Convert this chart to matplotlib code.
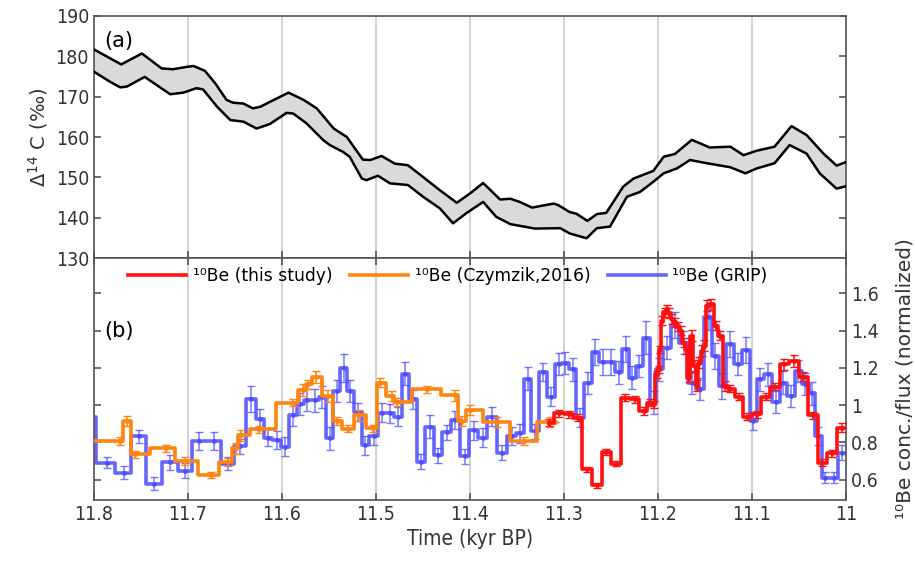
import numpy as np
import matplotlib
matplotlib.use("Agg")
import matplotlib.pyplot as plt
from matplotlib import font_manager

# ---- (a) Delta 14C envelope ----
d14c_up_t = [11.800, 11.771, 11.749, 11.728, 11.716, 11.701, 11.694, 11.682, 11.671, 11.659,
             11.652, 11.641, 11.631, 11.623, 11.613, 11.593, 11.577, 11.563, 11.545, 11.531,
             11.521, 11.514, 11.506, 11.494, 11.480, 11.466, 11.450, 11.432, 11.414, 11.400,
             11.386, 11.368, 11.357, 11.347, 11.334, 11.311, 11.306, 11.294, 11.287, 11.275,
             11.265, 11.255, 11.237, 11.226, 11.205, 11.194, 11.182, 11.164, 11.145, 11.123,
             11.109, 11.095, 11.076, 11.058, 11.042, 11.024, 11.010, 11.000]
d14c_up = [181.7, 178.0, 180.7, 177.0, 176.8, 177.4, 177.6, 176.4, 173.3, 169.2,
           168.5, 168.3, 167.1, 167.5, 168.7, 171.0, 169.2, 167.1, 162.1, 160.0,
           156.7, 154.4, 154.3, 155.3, 153.4, 153.0, 150.1, 146.8, 143.7, 146.0,
           148.6, 144.5, 144.7, 143.9, 142.5, 143.5, 143.1, 141.4, 141.0, 139.2,
           140.9, 141.2, 147.7, 149.7, 151.6, 155.1, 155.8, 159.3, 157.4, 157.6,
           155.5, 156.6, 157.6, 162.7, 160.5, 155.9, 152.9, 153.8]

d14c_lo_t = [11.800, 11.783, 11.772, 11.765, 11.746, 11.719, 11.705, 11.691, 11.684, 11.669,
             11.655, 11.641, 11.627, 11.613, 11.595, 11.588, 11.574, 11.556, 11.549, 11.535,
             11.528, 11.515, 11.510, 11.498, 11.485, 11.466, 11.450, 11.432, 11.418, 11.404,
             11.386, 11.372, 11.357, 11.331, 11.304, 11.294, 11.276, 11.265, 11.251, 11.233,
             11.219, 11.205, 11.194, 11.180, 11.166, 11.148, 11.123, 11.107, 11.095, 11.076,
             11.060, 11.042, 11.028, 11.010, 11.000]
d14c_lo = [176.2, 173.7, 172.3, 172.5, 174.9, 170.6, 171.0, 172.1, 171.8, 167.5,
           164.2, 163.8, 162.1, 163.2, 166.0, 165.8, 163.4, 159.2, 158.0, 156.3,
           155.1, 149.7, 149.3, 150.4, 148.5, 148.1, 145.2, 142.3, 138.6, 141.1,
           143.9, 140.2, 138.4, 137.3, 137.4, 136.1, 134.9, 137.4, 137.8, 145.2,
           146.4, 148.9, 151.0, 152.2, 154.3, 153.5, 152.5, 151.0, 152.2, 153.5,
           158.0, 155.9, 151.0, 147.2, 147.8]

# ---- (b) 10Be records ----
be_this_t = [11.3163, 11.3056, 11.2950, 11.2854, 11.2755, 11.2649, 11.2550, 11.2447, 11.2348, 11.2248,
             11.2152, 11.2082, 11.2046, 11.2011, 11.1993, 11.1976, 11.1957, 11.1929, 11.1904, 11.1880,
             11.1851, 11.1822, 11.1787, 11.1752, 11.1727, 11.1702, 11.1674, 11.1638, 11.1610, 11.1585,
             11.1561, 11.1532, 11.1507, 11.1479, 11.1433, 11.1383, 11.1337, 11.1290, 11.1231, 11.1141,
             11.1053, 11.0950, 11.0854, 11.0755, 11.0656, 11.0550, 11.0454, 11.0348, 11.0252, 11.0146,
             11.0046, 10.9960]
be_this = [0.905, 0.955, 0.950, 0.932, 0.654, 0.568, 0.747, 0.686, 1.040, 1.031,
           0.968, 1.013, 1.004, 1.165, 1.192, 1.300, 1.453, 1.498, 1.515, 1.494,
           1.462, 1.444, 1.422, 1.399, 1.336, 1.300, 1.148, 1.372, 1.210, 1.103,
           1.228, 1.291, 1.318, 1.533, 1.542, 1.426, 1.372, 1.103, 1.089, 1.045,
           0.938, 0.950, 1.045, 1.099, 1.219, 1.237, 1.153, 0.945, 0.690, 0.740,
           0.878, 0.878]
be_this_err = [0.02, 0.02, 0.02, 0.02, 0.015, 0.015, 0.015, 0.015, 0.02, 0.02,
               0.02, 0.02, 0.02, 0.02, 0.02, 0.02, 0.025, 0.025, 0.025, 0.025,
               0.025, 0.025, 0.025, 0.025, 0.025, 0.025, 0.025, 0.03, 0.03, 0.03,
               0.03, 0.03, 0.03, 0.03, 0.03, 0.025, 0.025, 0.025, 0.02, 0.02,
               0.02, 0.02, 0.02, 0.02, 0.03, 0.03, 0.025, 0.02, 0.02, 0.02,
               0.025, 0.0]

be_czy_t = [11.805, 11.7723, 11.7652, 11.7564, 11.7234, 11.7032, 11.6759, 11.6571, 11.6493, 11.6439,
            11.6241, 11.5880, 11.5773, 11.5720, 11.5641, 11.5507, 11.5418, 11.5295, 11.5178, 11.5029,
            11.4957, 11.4833, 11.4777, 11.4461, 11.4160, 11.4088, 11.4000, 11.3713, 11.3429, 11.3149,
            11.310]
be_czy = [0.806, 0.806, 0.914, 0.735, 0.767, 0.699, 0.623, 0.693, 0.767, 0.837,
          0.869, 1.013, 1.081, 1.112, 1.151, 1.049, 0.914, 0.873, 0.946, 0.875,
          1.121, 1.049, 1.016, 1.085, 1.052, 0.914, 0.973, 0.909, 0.806, 0.909,
          0.909]
be_czy_err = [0.02, 0.02, 0.025, 0.02, 0.02, 0.02, 0.015, 0.02, 0.03, 0.03,
              0.02, 0.02, 0.03, 0.025, 0.03, 0.03, 0.02, 0.02, 0.03, 0.02,
              0.025, 0.025, 0.02, 0.02, 0.03, 0.025, 0.025, 0.025, 0.02, 0.025,
              0.0]

be_grip_t = [11.8096, 11.7862, 11.7684, 11.7524, 11.7365, 11.7188, 11.7029, 11.6880, 11.6727, 11.6574,
             11.6444, 11.6330, 11.6231, 11.6149, 11.6053, 11.5971, 11.5886, 11.5805, 11.5734, 11.5646,
             11.5574, 11.5493, 11.5415, 11.5344, 11.5273, 11.5191, 11.5114, 11.5024, 11.4936, 11.4848,
             11.4766, 11.4688, 11.4610, 11.4521, 11.4429, 11.4340, 11.4245, 11.4163, 11.4050, 11.3961,
             11.3865, 11.3766, 11.3660, 11.3553, 11.3465, 11.3383, 11.3312, 11.3223, 11.3138, 11.3056,
             11.2986, 11.2907, 11.2827, 11.2745, 11.2667, 11.2588, 11.2500, 11.2418, 11.2340, 11.2277,
             11.2199, 11.2124, 11.2046, 11.1986, 11.1904, 11.1816, 11.1727, 11.1638, 11.1550, 11.1461,
             11.1390, 11.1319, 11.1231, 11.1149, 11.1064, 11.0986, 11.0915, 11.0827, 11.0748, 11.0667,
             11.0585, 11.0507, 11.0436, 11.0359, 11.0295, 11.0223, 11.0124, 11.0046, 10.9960]
be_grip = [0.934, 0.690, 0.636, 0.833, 0.578, 0.693, 0.648, 0.806, 0.806, 0.686,
           0.779, 1.035, 0.923, 0.825, 0.812, 0.776, 0.945, 1.004, 1.027, 1.025,
           1.043, 0.821, 1.076, 1.201, 1.076, 0.962, 0.783, 0.833, 0.959, 0.955,
           0.938, 1.169, 1.031, 0.695, 0.884, 0.731, 0.855, 0.919, 0.725, 0.865,
           0.825, 0.938, 0.744, 0.833, 0.848, 1.142, 0.860, 1.178, 1.045, 1.219,
           1.225, 1.192, 0.932, 1.117, 1.286, 1.232, 1.232, 1.175, 1.300, 1.148,
           1.210, 1.363, 1.013, 1.192, 1.309, 1.430, 1.336, 1.121, 1.085, 1.471,
           1.264, 1.103, 1.327, 1.219, 1.296, 0.914, 1.138, 1.165, 1.016, 1.121,
           1.049, 1.183, 1.112, 1.063, 0.833, 0.609, 0.609, 0.744, 0.744]
be_grip_err = [0.03, 0.03, 0.035, 0.035, 0.035, 0.04, 0.04, 0.05, 0.05, 0.035,
               0.04, 0.07, 0.055, 0.045, 0.05, 0.05, 0.06, 0.06, 0.06, 0.06,
               0.06, 0.06, 0.06, 0.075, 0.06, 0.05, 0.05, 0.05, 0.05, 0.05,
               0.05, 0.06, 0.05, 0.04, 0.06, 0.04, 0.04, 0.05, 0.04, 0.05,
               0.05, 0.05, 0.04, 0.05, 0.05, 0.06, 0.04, 0.05, 0.05, 0.06,
               0.06, 0.06, 0.05, 0.06, 0.07, 0.07, 0.07, 0.06, 0.07, 0.06,
               0.06, 0.09, 0.06, 0.06, 0.06, 0.07, 0.06, 0.06, 0.06, 0.07,
               0.07, 0.07, 0.07, 0.06, 0.07, 0.05, 0.06, 0.06, 0.06, 0.06,
               0.06, 0.06, 0.06, 0.06, 0.05, 0.03, 0.03, 0.04, 0.0]

x_ticks = [11.8, 11.7, 11.6, 11.5, 11.4, 11.3, 11.2, 11.1, 11.0]
x_ticklabels = ["11.8", "11.7", "11.6", "11.5", "11.4", "11.3", "11.2", "11.1", "11"]
d14c_ticks = [130, 140, 150, 160, 170, 180, 190]
be_ticks = [0.6, 0.8, 1.0, 1.2, 1.4, 1.6]
be_ticklabels = ["0.6", "0.8", "1", "1.2", "1.4", "1.6"]

# narrow font for the tick labels: Liberation Sans Narrow if present, else condensed DejaVu
names = {f.name for f in font_manager.fontManager.ttflist}
if "Liberation Sans Narrow" in names:
    tick_font = dict(family="Liberation Sans Narrow")
else:
    tick_font = dict(family="DejaVu Sans", stretch="condensed")

c_red = "#ff1010"
c_orange = "#ff8410"
c_blue = "#4b4bff"
spine_c = "#555555"

fig = plt.figure(figsize=(9.15, 5.63), dpi=100)
ax1 = fig.add_axes([0.1027, 0.5417, 0.8219, 0.4299])
ax2 = fig.add_axes([0.1027, 0.1119, 0.8219, 0.4298])

# panel a
ax1.fill(np.concatenate([d14c_up_t, d14c_lo_t[::-1]]),
         np.concatenate([d14c_up, d14c_lo[::-1]]),
         color="#dadada", lw=0, zorder=1)
ax1.plot(d14c_up_t, d14c_up, color="black", lw=1.8, zorder=3)
ax1.plot(d14c_lo_t, d14c_lo, color="black", lw=1.8, zorder=3)
ax1.set_ylim(130, 190)
ax1.set_yticks(d14c_ticks)
ax1.set_ylabel("Δ$^{14}$ C (‰)", fontsize=14, color="#333333")
ax1.text(0.014, 0.94, "(a)", transform=ax1.transAxes, fontsize=15, va="top")

# panel b
ax2.step(be_grip_t, be_grip, where="mid", color=c_blue, lw=2.6, alpha=0.85, zorder=2,
         label="¹⁰Be (GRIP)")
ax2.errorbar(be_grip_t, be_grip, yerr=be_grip_err, fmt="o", ms=2.5, color=c_blue,
             elinewidth=1.1, capsize=3, alpha=0.75, zorder=2)
ax2.step(be_czy_t, be_czy, where="mid", color=c_orange, lw=2.6, zorder=3,
         label="¹⁰Be (Czymzik,2016)")
ax2.errorbar(be_czy_t, be_czy, yerr=be_czy_err, fmt="o", ms=2.5, color=c_orange,
             elinewidth=1.1, capsize=3, zorder=3)
ax2.step(be_this_t, be_this, where="mid", color=c_red, lw=2.6, zorder=4,
         label="¹⁰Be (this study)")
ax2.errorbar(be_this_t, be_this, yerr=be_this_err, fmt="o", ms=2.5, color=c_red,
             elinewidth=1.1, capsize=3, zorder=4)
ax2.set_ylim(0.49, 1.79)
ax2.set_yticks(be_ticks)
ax2.set_yticklabels(be_ticklabels)
ax2.yaxis.set_label_position("right")
ax2.set_ylabel("¹⁰Be conc./flux (normalized)", fontsize=14.5, color="#333333", labelpad=12)
ax2.set_xlabel("Time (kyr BP)", fontsize=15, color="#333333", **tick_font)
ax2.text(0.014, 0.74, "(b)", transform=ax2.transAxes, fontsize=15, va="top")

h, l = ax2.get_legend_handles_labels()
ax2.legend(h[::-1], l[::-1], loc="upper left", bbox_to_anchor=(0.025, 1.025), ncol=3,
           frameon=False, fontsize=12.3, handlelength=3.4, handletextpad=0.4,
           columnspacing=1.0)

for ax in (ax1, ax2):
    ax.set_xlim(11.8, 11.0)
    ax.set_xticks(x_ticks)
    ax.grid(axis="x", color="#cccccc", lw=1.2, zorder=0)
    ax.set_axisbelow(True)
    for s in ax.spines.values():
        s.set_color(spine_c)
        s.set_linewidth(1.2)
    ax.tick_params(direction="in", length=5, width=1.2, color=spine_c,
                   top=True, right=True, labelsize=14, labelcolor="#333333")

ax1.tick_params(labelbottom=False, top=False)
ax2.set_xticklabels(x_ticklabels)
ax2.tick_params(labelleft=False, labelright=True)
for ax in (ax1, ax2):
    for lab in ax.get_xticklabels() + ax.get_yticklabels():
        lab.set_fontfamily(tick_font["family"])
        if "stretch" in tick_font:
            lab.set_fontstretch(tick_font["stretch"])

fig.savefig("out.png", dpi=100)
